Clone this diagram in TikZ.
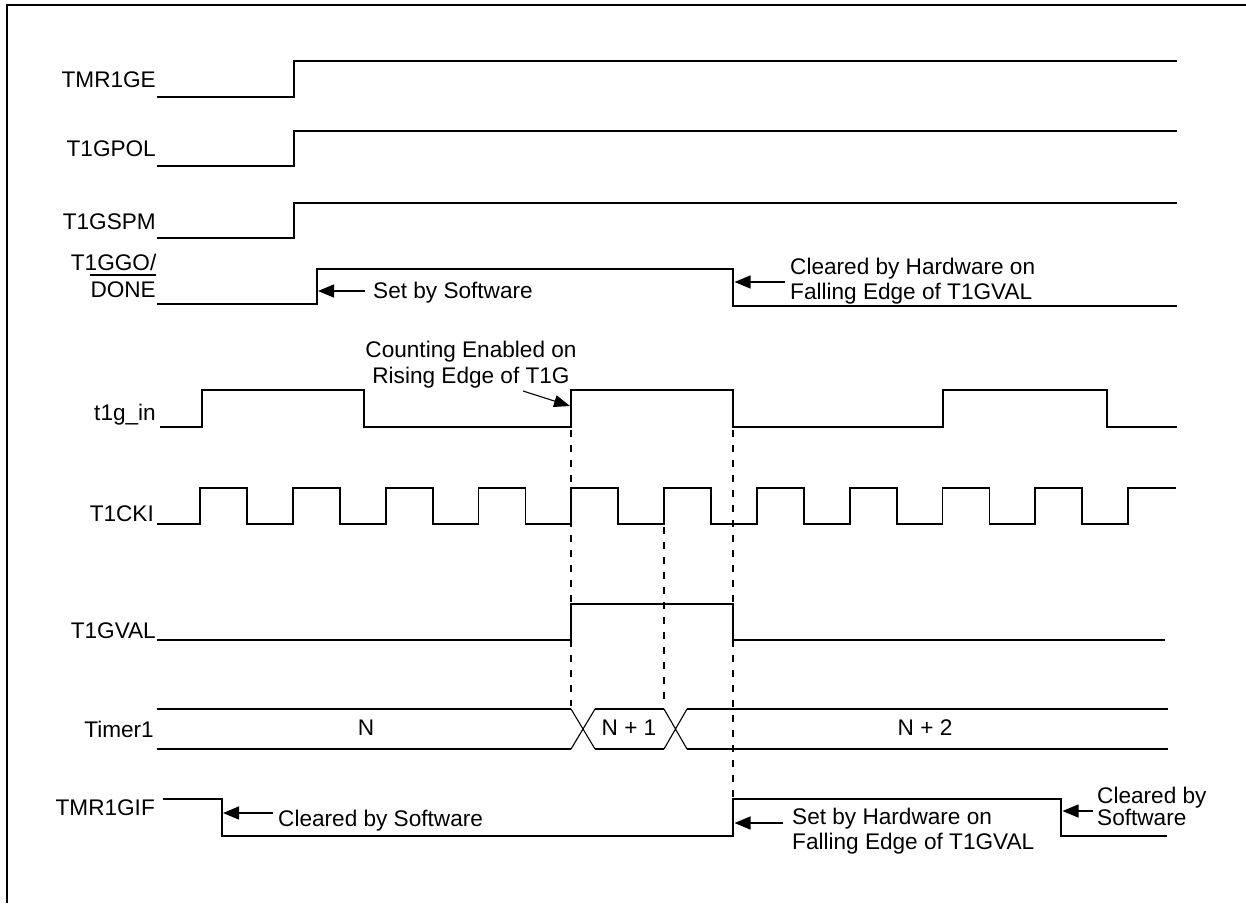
\documentclass[tikz,border=0pt]{standalone}
\usepackage{fontspec}
\setmainfont{Liberation Sans}
\usetikzlibrary{arrows.meta}
\begin{document}
\begin{tikzpicture}[x=1pt,y=-1pt,
  sig/.style={line width=1.8pt},
  xing/.style={line width=1.1pt},
  frameline/.style={line width=2pt},
  guide/.style={line width=1.8pt, dash pattern=on 7pt off 8pt},
  lbl/.style={anchor=base east, inner sep=0pt, font=\fontsize{22.6}{26}\selectfont},
  note/.style={anchor=base west, inner sep=0pt, align=left, font=\fontsize{22.6}{25}\selectfont},
  val/.style={anchor=base, inner sep=0pt, font=\fontsize{22.6}{26}\selectfont},
  pointer/.style={line width=1.4pt, -{Triangle[length=16pt,width=13pt]}},
  thinpointer/.style={line width=1.1pt, -{Triangle[length=16pt,width=12pt]}}]
\useasboundingbox (0,0) rectangle (1246,903);
\draw[frameline] (7,903) -- (7,5) -- (1246,5);

% signal labels
\node[lbl] (tmr1ge) at (156,87) {TMR1GE};
\node[lbl] (t1gpol) at (156,156.5) {T1GPOL};
\node[lbl] (t1gspm) at (156,229) {T1GSPM};
\node[lbl] (t1ggo) at (156.5,270) {T1GGO/};
\node[lbl] (done) at (156,297.5) {DONE};
\draw[line width=1.4pt] (done.west |- 0,275) -- (done.east |- 0,275);
\node[lbl] (t1gin) at (156,420) {t1g\_in};
\node[lbl] (t1cki) at (154,521) {T1CKI};
\node[lbl] (t1gval) at (156,638) {T1GVAL};
\node[lbl] (timer1) at (154,737) {Timer1};
\node[lbl] (tmr1gif) at (155,815) {TMR1GIF};

% waveforms
\draw[sig] (157,97) -- (294,97) -- (294,61) -- (1177,61);
\draw[sig] (157,166) -- (294,166) -- (294,131) -- (1177,131);
\draw[sig] (157,238) -- (294,238) -- (294,203) -- (1177,203);
\draw[sig] (157,304) -- (317,304) -- (317,269) -- (733,269) -- (733,306) -- (1177,306);
\draw[sig] (160,427) -- (202,427) -- (202,390) -- (364,390) -- (364,427) -- (571,427)
  -- (571,390) -- (733,390) -- (733,427) -- (943,427) -- (943,390) -- (1107,390)
  -- (1107,427) -- (1177,427);
\draw[sig] (157,524) -- (200,524)
  -- (200,488) -- (247,488) -- (247,524) -- (292.8,524)
  -- (292.8,488) -- (339.8,488) -- (339.8,524) -- (385.6,524)
  -- (385.6,488) -- (432.6,488) -- (432.6,524) -- (478.4,524)
  -- (478.4,488) -- (525.4,488) -- (525.4,524) -- (571.2,524)
  -- (571.2,488) -- (618.2,488) -- (618.2,524) -- (664,524)
  -- (664,488) -- (711,488) -- (711,524) -- (756.8,524)
  -- (756.8,488) -- (803.8,488) -- (803.8,524) -- (849.6,524)
  -- (849.6,488) -- (896.6,488) -- (896.6,524) -- (942.4,524)
  -- (942.4,488) -- (989.4,488) -- (989.4,524) -- (1035.2,524)
  -- (1035.2,488) -- (1082.2,488) -- (1082.2,524) -- (1128,524)
  -- (1128,488) -- (1176,488);
\draw[sig] (157,640) -- (571,640) -- (571,604) -- (733,604) -- (733,640) -- (1165,640);
% Timer1 bus
\draw[sig] (157,709) -- (571,709) (595,709) -- (664,709) (687,709) -- (1168,709);
\draw[sig] (157,749) -- (571,749) (595,749) -- (664,749) (687,749) -- (1168,749);
\draw[xing] (571,709) -- (595,749) (571,749) -- (595,709)
            (664,709) -- (687,749) (664,749) -- (687,709);
\node[val] (vn) at (366,735) {N};
\node[val] (vn1) at (629,735) {N + 1};
\node[val] (vn2) at (925,735) {N + 2};
% TMR1GIF
\draw[sig] (163,799) -- (222,799) -- (222,836) -- (733,836) -- (733,799) -- (1061,799)
  -- (1061,836) -- (1167,836);

% guides
\draw[guide] (571,430) -- (571,706);
\draw[guide] (664,497) -- (664,706);
\draw[guide] (733,430) -- (733,797);

% annotations
\coordinate (ggoRise) at (318,291);
\coordinate (ggoFall) at (734.5,282);
\coordinate (ginRise) at (570,406);
\coordinate (cntTail) at (523,391);
\coordinate (gifFall) at (223,813);
\coordinate (gifRise) at (734.5,823);
\coordinate (gifFall2) at (1062.5,811);

\node[note] (setsw) at (373,298) {Set by Software};
\draw[pointer] (setsw.west |- ggoRise) ++(-8,0) -- (ggoRise);

\node[note] (clrhw) at (790,299) {Cleared by Hardware on\\Falling Edge of T1GVAL};
\draw[pointer] (clrhw.west |- ggoFall) ++(-5,0) -- (ggoFall);

\node[note, align=center, font=\fontsize{22.6}{26}\selectfont, anchor=base] (cnt) at (471,383) {Counting Enabled on\\Rising Edge of T1G};
\draw[thinpointer] (cntTail) -- (ginRise);

\node[note] (clrsw) at (278,826) {Cleared by Software};
\draw[pointer] (clrsw.west |- gifFall) ++(-5,0) -- (gifFall);

\node[note] (sethw) at (792,849) {Set by Hardware on\\Falling Edge of T1GVAL};
\draw[pointer] (sethw.west |- gifRise) ++(-9,0) -- (gifRise);

\node[note, font=\fontsize{22.6}{20.7}\selectfont] (clrsw2) at (1097,825.5) {Cleared by\\Software};
\draw[pointer] (clrsw2.west |- gifFall2) ++(-4,0) -- (gifFall2);
\end{tikzpicture}
\end{document}
